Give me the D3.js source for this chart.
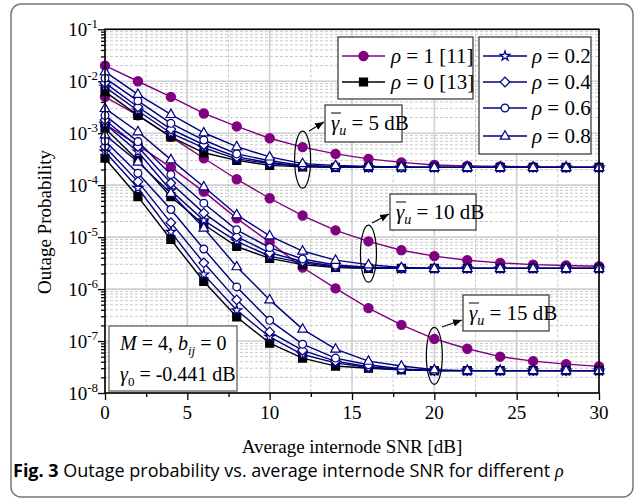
<!DOCTYPE html>
<html>
<head>
<meta charset="utf-8">
<script src="https://cdn.jsdelivr.net/npm/d3@7"></script>
<style>
  body { margin: 0; background: #fff; }
  svg text { font-family: "Liberation Serif", "Times New Roman", serif; fill: #000; }
</style>
</head>
<body>
<svg id="chart" width="635" height="503"></svg>
<script>
// x values (average internode SNR, dB)
const snr = [0, 2, 4, 6, 8, 10, 12, 14, 16, 18, 20, 22, 24, 26, 28, 30];

// gamma_u = 5 dB
const g5_r1  = [2.0e-2, 1.0e-2, 5.0e-3, 2.4e-3, 1.35e-3, 8.0e-4, 5.4e-4, 4.0e-4, 3.2e-4, 2.75e-4, 2.45e-4, 2.35e-4, 2.3e-4, 2.25e-4, 2.2e-4, 2.2e-4];
const g5_r0  = [6.3e-3, 2.2e-3, 8.5e-4, 4.2e-4, 3.0e-4, 2.4e-4, 2.25e-4, 2.2e-4, 2.2e-4, 2.2e-4, 2.2e-4, 2.2e-4, 2.2e-4, 2.2e-4, 2.2e-4, 2.2e-4];
const g5_r02 = [7.8e-3, 2.7e-3, 1.0e-3, 5.2e-4, 3.2e-4, 2.6e-4, 2.3e-4, 2.2e-4, 2.2e-4, 2.2e-4, 2.2e-4, 2.2e-4, 2.2e-4, 2.2e-4, 2.2e-4, 2.2e-4];
const g5_r04 = [9.3e-3, 3.2e-3, 1.2e-3, 6.0e-4, 3.5e-4, 2.7e-4, 2.35e-4, 2.25e-4, 2.2e-4, 2.2e-4, 2.2e-4, 2.2e-4, 2.2e-4, 2.2e-4, 2.2e-4, 2.2e-4];
const g5_r06 = [1.15e-2, 4.2e-3, 1.55e-3, 7.4e-4, 4.0e-4, 2.95e-4, 2.4e-4, 2.3e-4, 2.25e-4, 2.2e-4, 2.2e-4, 2.2e-4, 2.2e-4, 2.2e-4, 2.2e-4, 2.2e-4];
const g5_r08 = [1.53e-2, 5.6e-3, 2.3e-3, 1.02e-3, 5.5e-4, 3.5e-4, 2.6e-4, 2.4e-4, 2.3e-4, 2.25e-4, 2.2e-4, 2.2e-4, 2.2e-4, 2.2e-4, 2.2e-4, 2.2e-4];

// gamma_u = 10 dB
const g10_r1  = [5.0e-3, 2.2e-3, 8.5e-4, 3.3e-4, 1.3e-4, 5.6e-5, 2.6e-5, 1.35e-5, 8.3e-6, 5.6e-6, 4.3e-6, 3.6e-6, 3.2e-6, 2.95e-6, 2.85e-6, 2.75e-6];
const g10_r0  = [1.25e-3, 3.0e-4, 6.0e-5, 1.75e-5, 6.6e-6, 3.9e-6, 2.95e-6, 2.6e-6, 2.5e-6, 2.5e-6, 2.5e-6, 2.5e-6, 2.5e-6, 2.5e-6, 2.5e-6, 2.5e-6];
const g10_r02 = [1.5e-3, 4.4e-4, 7.9e-5, 2.1e-5, 8.3e-6, 4.3e-6, 3.2e-6, 2.65e-6, 2.55e-6, 2.5e-6, 2.5e-6, 2.5e-6, 2.5e-6, 2.5e-6, 2.5e-6, 2.5e-6];
const g10_r04 = [1.8e-3, 5.5e-4, 1.1e-4, 2.9e-5, 1.02e-5, 5.0e-6, 3.4e-6, 2.75e-6, 2.6e-6, 2.5e-6, 2.5e-6, 2.5e-6, 2.5e-6, 2.5e-6, 2.5e-6, 2.5e-6];
const g10_r06 = [2.2e-3, 6.9e-4, 1.6e-4, 4.5e-5, 1.38e-5, 6.3e-6, 3.8e-6, 2.9e-6, 2.65e-6, 2.55e-6, 2.5e-6, 2.5e-6, 2.5e-6, 2.5e-6, 2.5e-6, 2.5e-6];
const g10_r08 = [3.0e-3, 1.07e-3, 3.1e-4, 9.3e-5, 2.7e-5, 1.06e-5, 5.4e-6, 3.6e-6, 2.95e-6, 2.6e-6, 2.5e-6, 2.5e-6, 2.5e-6, 2.5e-6, 2.5e-6, 2.5e-6];

// gamma_u = 15 dB
const g15_r1  = [1.5e-3, 5.9e-4, 2.2e-4, 7.5e-5, 2.3e-5, 8.0e-6, 2.6e-6, 1.03e-6, 4.3e-7, 2.05e-7, 1.1e-7, 7.1e-8, 5.0e-8, 4.1e-8, 3.6e-8, 3.25e-8];
const g15_r0  = [3.3e-4, 6.0e-5, 9.0e-6, 1.4e-6, 2.9e-7, 9.1e-8, 4.7e-8, 3.3e-8, 3.0e-8, 2.8e-8, 2.7e-8, 2.7e-8, 2.7e-8, 2.7e-8, 2.7e-8, 2.7e-8];
const g15_r02 = [4.4e-4, 8.8e-5, 1.26e-5, 1.9e-6, 3.9e-7, 1.2e-7, 5.5e-8, 3.8e-8, 3.1e-8, 2.8e-8, 2.7e-8, 2.7e-8, 2.7e-8, 2.7e-8, 2.7e-8, 2.7e-8];
const g15_r04 = [5.5e-4, 1.17e-4, 1.9e-5, 3.2e-6, 6.2e-7, 1.5e-7, 6.6e-8, 4.1e-8, 3.2e-8, 2.85e-8, 2.7e-8, 2.7e-8, 2.7e-8, 2.7e-8, 2.7e-8, 2.7e-8];
const g15_r06 = [7.1e-4, 1.7e-4, 3.4e-5, 5.9e-6, 1.1e-6, 2.5e-7, 8.7e-8, 4.7e-8, 3.5e-8, 2.9e-8, 2.7e-8, 2.7e-8, 2.7e-8, 2.7e-8, 2.7e-8, 2.7e-8];
const g15_r08 = [9.3e-4, 2.8e-4, 7.0e-5, 1.5e-5, 2.7e-6, 6.2e-7, 1.7e-7, 7.0e-8, 4.1e-8, 3.3e-8, 2.8e-8, 2.7e-8, 2.7e-8, 2.7e-8, 2.7e-8, 2.7e-8];

const xTicks = [0, 5, 10, 15, 20, 25, 30];
const yExponents = [-8, -7, -6, -5, -4, -3, -2, -1];

const legendA = [
  { rho: '1 [11]', color: '#800080', shape: 'dot' },
  { rho: '0 [13]', color: '#000000', shape: 'square' }
];
const legendB = [
  { rho: '0.2', color: '#000080', shape: 'star' },
  { rho: '0.4', color: '#000080', shape: 'diamond' },
  { rho: '0.6', color: '#000080', shape: 'circle' },
  { rho: '0.8', color: '#000080', shape: 'triangle' }
];

// draw order: rho=1, rho=0, then blue ones
const series = [
  { vals: g5_r1, style: legendA[0] }, { vals: g10_r1, style: legendA[0] }, { vals: g15_r1, style: legendA[0] },
  { vals: g5_r0, style: legendA[1] }, { vals: g10_r0, style: legendA[1] }, { vals: g15_r0, style: legendA[1] },
  { vals: g5_r02, style: legendB[0] }, { vals: g10_r02, style: legendB[0] }, { vals: g15_r02, style: legendB[0] },
  { vals: g5_r04, style: legendB[1] }, { vals: g10_r04, style: legendB[1] }, { vals: g15_r04, style: legendB[1] },
  { vals: g5_r06, style: legendB[2] }, { vals: g10_r06, style: legendB[2] }, { vals: g15_r06, style: legendB[2] },
  { vals: g5_r08, style: legendB[3] }, { vals: g10_r08, style: legendB[3] }, { vals: g15_r08, style: legendB[3] }
];

const svg = d3.select('#chart');

const pL = 105, pR = 599, pT = 29.3, pB = 393;
const x = d3.scaleLinear().domain([0, 30]).range([pL, pR]);
const y = d3.scaleLog().domain([1e-8, 1e-1]).range([pB, pT]);

// outer figure frame
svg.append('rect')
  .attr('x', 11).attr('y', 4)
  .attr('width', 622).attr('height', 493)
  .attr('rx', 10)
  .attr('fill', '#fff')
  .attr('stroke', '#777')
  .attr('stroke-width', 1.5);

// grid
const grid = svg.append('g');
const xMinor = d3.range(2.5, 30, 5);
grid.selectAll('line.xminor').data(xMinor).enter().append('line')
  .attr('x1', d => x(d)).attr('x2', d => x(d))
  .attr('y1', pT).attr('y2', pB)
  .attr('stroke', '#c8c8c8').attr('stroke-width', 1).attr('stroke-dasharray', '3,2');
const yMinor = y.ticks().filter(d => Math.abs(Math.log10(d) - Math.round(Math.log10(d))) > 1e-6);
grid.selectAll('line.yminor').data(yMinor).enter().append('line')
  .attr('x1', pL).attr('x2', pR)
  .attr('y1', d => y(d)).attr('y2', d => y(d))
  .attr('stroke', '#c8c8c8').attr('stroke-width', 1).attr('stroke-dasharray', '3,2');
grid.selectAll('line.xmajor').data(xTicks).enter().append('line')
  .attr('x1', d => x(d)).attr('x2', d => x(d))
  .attr('y1', pT).attr('y2', pB)
  .attr('stroke', '#cfcfcf').attr('stroke-width', 1.6);
grid.selectAll('line.ymajor').data(yExponents).enter().append('line')
  .attr('x1', pL).attr('x2', pR)
  .attr('y1', d => y(Math.pow(10, d))).attr('y2', d => y(Math.pow(10, d)))
  .attr('stroke', '#cfcfcf').attr('stroke-width', 1.6);

// axes
svg.append('g').attr('transform', 'translate(0,' + pB + ')')
  .call(d3.axisBottom(x).tickValues(xTicks).tickSize(7).tickFormat(''));
svg.append('g').attr('transform', 'translate(0,' + pB + ')')
  .call(d3.axisBottom(x).tickValues(xMinor).tickSize(4).tickFormat(''));
svg.append('g').attr('transform', 'translate(' + pL + ',0)')
  .call(d3.axisLeft(y).tickValues(yExponents.map(e => Math.pow(10, e))).tickSize(7).tickFormat(''));
svg.append('g').attr('transform', 'translate(' + pL + ',0)')
  .call(d3.axisLeft(y).tickValues(yMinor).tickSize(4).tickFormat(''));
svg.selectAll('.domain').remove();
svg.selectAll('.tick line').attr('stroke', '#000').attr('stroke-width', 1.3);

svg.append('g').selectAll('text').data(xTicks).enter().append('text')
  .attr('x', d => x(d)).attr('y', 419)
  .attr('text-anchor', 'middle').attr('font-size', 19)
  .text(d => d);

const yLab = svg.append('g').selectAll('text').data(yExponents).enter().append('text')
  .attr('x', 98).attr('y', d => y(Math.pow(10, d)) + 7)
  .attr('text-anchor', 'end').attr('font-size', 19);
yLab.append('tspan').text('10');
yLab.append('tspan').attr('dy', -8).attr('font-size', 13).text(d => d);

svg.append('text')
  .attr('transform', 'translate(51,222) rotate(-90)')
  .attr('text-anchor', 'middle').attr('font-size', 19)
  .text('Outage Probability');
svg.append('text')
  .attr('x', (pL + pR) / 2).attr('y', 453)
  .attr('text-anchor', 'middle').attr('font-size', 19)
  .text('Average internode SNR [dB]');

// markers
function symbolPath(shape) {
  if (shape === 'dot') return d3.symbol(d3.symbolCircle, Math.PI * 4.6 * 4.6)();
  if (shape === 'square') return d3.symbol(d3.symbolSquare, 64)();
  if (shape === 'circle') return d3.symbol(d3.symbolCircle, Math.PI * 3.9 * 3.9)();
  if (shape === 'star') return d3.symbol(d3.symbolStar, 30)();
  if (shape === 'diamond') return 'M0,-4.8L4.8,0L0,4.8L-4.8,0Z';
  if (shape === 'triangle') return 'M0,-5.3L4.8,3.1L-4.8,3.1Z';
}
function markerFill(s) {
  return (s.shape === 'dot' || s.shape === 'square') ? s.color : '#fff';
}

const line = d3.line().x((d, i) => x(snr[i])).y(d => y(d));
const plot = svg.append('g');
series.forEach(s => {
  const g = plot.append('g');
  g.append('path')
    .attr('d', line(s.vals))
    .attr('fill', 'none')
    .attr('stroke', s.style.color)
    .attr('stroke-width', 1.4);
  g.selectAll('path.m').data(s.vals).enter().append('path')
    .attr('transform', (d, i) => 'translate(' + x(snr[i]) + ',' + y(d) + ')')
    .attr('d', symbolPath(s.style.shape))
    .attr('fill', markerFill(s.style))
    .attr('stroke', s.style.color)
    .attr('stroke-width', 1.2);
});

// frame
svg.append('rect')
  .attr('x', pL).attr('y', pT)
  .attr('width', pR - pL).attr('height', pB - pT)
  .attr('fill', 'none').attr('stroke', '#000').attr('stroke-width', 1.6);

// legends
function drawLegend(items, bx, by, bw, bh, lx0, lx1, tx, rowY) {
  const g = svg.append('g');
  g.append('rect').attr('x', bx).attr('y', by).attr('width', bw).attr('height', bh)
    .attr('fill', '#fff').attr('stroke', '#333').attr('stroke-width', 1.2);
  items.forEach((s, i) => {
    const yy = rowY[i];
    g.append('line').attr('x1', lx0).attr('x2', lx1).attr('y1', yy).attr('y2', yy)
      .attr('stroke', s.color).attr('stroke-width', 1.4);
    g.append('path').attr('transform', 'translate(' + (lx0 + lx1) / 2 + ',' + yy + ')')
      .attr('d', symbolPath(s.shape))
      .attr('fill', markerFill(s)).attr('stroke', s.color).attr('stroke-width', 1.2);
    const t = g.append('text').attr('x', tx).attr('y', yy + 7).attr('font-size', 21);
    t.append('tspan').attr('font-style', 'italic').text('ρ');
    t.append('tspan').text(' = ' + s.rho);
  });
}
drawLegend(legendA, 338, 37, 135, 62, 342, 385, 391, [56, 82]);
drawLegend(legendB, 479, 37, 112, 117, 483, 527, 532, [56, 82, 108, 136]);

// gamma_u annotations
const notes = [
  { snr: 12, center: 3.1e-4, label: '5 dB', box: [325, 105, 77, 37], arrow: [309, 131, 324, 122] },
  { snr: 16, center: 4.8e-6, label: '10 dB', box: [390, 194, 86, 36], arrow: [372, 223, 389, 214] },
  { snr: 20, center: 5.2e-8, label: '15 dB', box: [463, 295, 86, 36], arrow: [442, 327, 462, 320] }
];
svg.append('defs').append('marker')
  .attr('id', 'ah').attr('viewBox', '0 0 10 10').attr('refX', 10).attr('refY', 5)
  .attr('markerWidth', 9).attr('markerHeight', 9).attr('orient', 'auto')
  .attr('markerUnits', 'userSpaceOnUse')
  .append('path').attr('d', 'M0,1L10,5L0,9Z').attr('fill', '#000');

notes.forEach(n => {
  const g = svg.append('g');
  g.append('ellipse')
    .attr('cx', x(n.snr)).attr('cy', y(n.center))
    .attr('rx', 8).attr('ry', 28.5)
    .attr('fill', 'none').attr('stroke', '#000').attr('stroke-width', 1.2);
  g.append('line')
    .attr('x1', n.arrow[0]).attr('y1', n.arrow[1]).attr('x2', n.arrow[2]).attr('y2', n.arrow[3])
    .attr('stroke', '#000').attr('stroke-width', 1.2).attr('marker-end', 'url(#ah)');
  const [bx, by, bw, bh] = n.box;
  g.append('rect').attr('x', bx).attr('y', by).attr('width', bw).attr('height', bh)
    .attr('fill', '#fff').attr('stroke', '#333').attr('stroke-width', 1.2);
  const t = g.append('text').attr('x', bx + 6).attr('y', by + 25).attr('font-size', 21);
  t.append('tspan').attr('font-style', 'italic').text('γ');
  t.append('tspan').attr('font-style', 'italic').attr('font-size', 14).attr('dy', 5).text('u');
  t.append('tspan').attr('dy', -5).text(' = ' + n.label);
  g.append('line')
    .attr('x1', bx + 6).attr('x2', bx + 16).attr('y1', by + 8).attr('y2', by + 8)
    .attr('stroke', '#000').attr('stroke-width', 1);
});

// parameter box
const pb = svg.append('g');
pb.append('rect').attr('x', 109).attr('y', 326).attr('width', 128).attr('height', 65)
  .attr('fill', '#fff').attr('stroke', '#555').attr('stroke-width', 1.2);
const p1 = pb.append('text').attr('x', 120).attr('y', 350).attr('font-size', 20);
p1.append('tspan').attr('font-style', 'italic').text('M');
p1.append('tspan').text(' = 4, ');
p1.append('tspan').attr('font-style', 'italic').text('b');
p1.append('tspan').attr('font-style', 'italic').attr('font-size', 13).attr('dy', 5).text('ij');
p1.append('tspan').attr('dy', -5).text(' = 0');
const p2 = pb.append('text').attr('x', 120).attr('y', 381).attr('font-size', 20);
p2.append('tspan').attr('font-style', 'italic').text('γ');
p2.append('tspan').attr('font-size', 13).attr('dy', 5).text('0');
p2.append('tspan').attr('dy', -5).text(' = -0.441 dB');

// caption
const cap = svg.append('text').attr('x', 13).attr('y', 477)
  .attr('font-size', 18).style('font-family', '"Open Sans", sans-serif');
cap.append('tspan').attr('font-weight', 'bold').text('Fig. 3');
cap.append('tspan').text(' Outage probability vs. average internode SNR for different ');
cap.append('tspan').attr('font-style', 'italic').style('font-family', '"Liberation Serif", serif').text('ρ');
</script>
</body>
</html>
